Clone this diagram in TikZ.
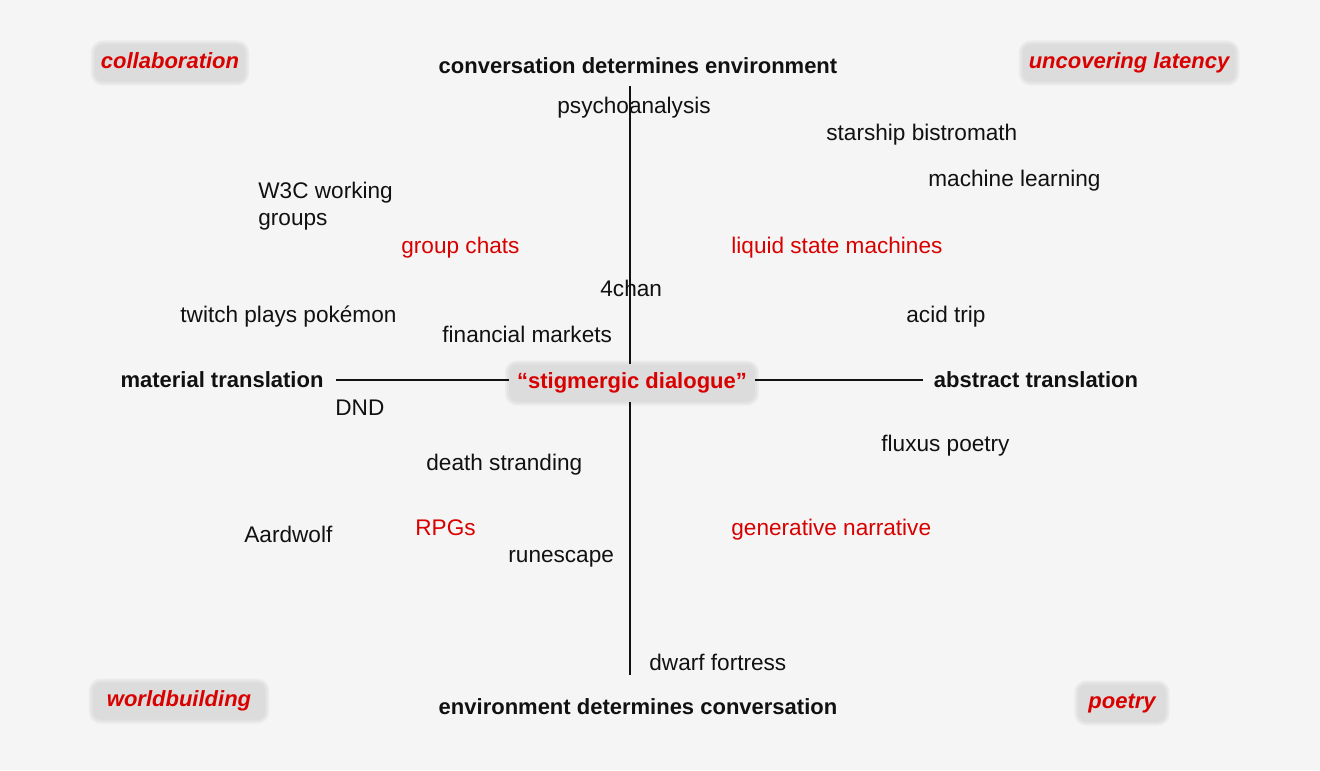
\documentclass[tikz,border=0pt]{standalone}
\usepackage{fontspec}
\setmainfont{Liberation Sans}
\usetikzlibrary{positioning}
\definecolor{mRed}{HTML}{D90000}
\definecolor{mBg}{HTML}{F5F5F5}
\definecolor{mBox}{HTML}{DCDCDC}
\definecolor{mInk}{HTML}{111111}

\begin{document}
\begin{tikzpicture}[x=0.5pt, y=-0.5pt, font=\fontsize{11.3}{13.5}\selectfont,
      item/.style={anchor=west, inner sep=0pt, text height=8pt, text depth=2.5pt, text=mInk},
      axislabel/.style={font=\fontsize{11}{13.5}\selectfont\bfseries, text=mInk, inner sep=1pt},
      tag/.style={fill=mBox, rounded corners=4pt, text=mRed, inner xsep=3pt, inner ysep=4pt,
        text height=8pt, text depth=2.5pt, font=\fontsize{11}{13.5}\selectfont\bfseries\itshape,
        preaction={draw=mBox!40!mBg, line width=4pt, rounded corners=4pt},
        preaction={draw=mBox!75!mBg, line width=2pt, rounded corners=4pt}},
      axis/.style={draw=mInk, line width=0.8pt}]
    \useasboundingbox[fill=mBg] (0,0) rectangle (1320,770);
    % quadrant tags
    \node[tag] (collab) at (170,63) {collaboration};
    \node[tag] (latency) at (1129,63) {uncovering latency};
    \node[tag, inner xsep=7pt] (world) at (179,701) {worldbuilding};
    \node[tag, inner xsep=5pt] (poetry) at (1122,703) {poetry};
    % axis ends
    \node[axislabel] (convEnv) at (638,66) {conversation determines environment};
    \node[axislabel] (envConv) at (638,707) {environment determines conversation};
    \node[axislabel] (material) at (222,380) {material translation};
    \node[axislabel] (abstract) at (1036,380) {abstract translation};
    % centre
    \node[tag, font=\fontsize{11}{13.5}\selectfont\bfseries, inner xsep=4pt] (dlg) at (632,383) {“stigmergic dialogue”};
    \coordinate (vTop) at (630,86);
    \coordinate (vBot) at (630,675);
    \coordinate (hLeft) at (336,380);
    \coordinate (hRight) at (923,380);
    \draw[axis] (vTop) -- (vTop |- dlg.north);
    \draw[axis] (vBot |- dlg.south) -- (vBot);
    \draw[axis] (hLeft) -- (hLeft -| dlg.west);
    \draw[axis] (hRight -| dlg.east) -- (hRight);
    % examples: name / left x / y / colour / text
    \foreach \id/\x/\y/\c/\txt in {
        psy/557/108/mInk/psychoanalysis, bistro/826/135/mInk/starship bistromath,
        ml/928/181/mInk/machine learning, chats/401/248/mRed/group chats,
        lsm/731/248/mRed/liquid state machines, chan/600/291/mInk/4chan,
        twitch/180/317/mInk/twitch plays pokémon, acid/906/317/mInk/acid trip,
        markets/442/337/mInk/financial markets, dnd/335/410/mInk/DND,
        fluxus/881/446/mInk/fluxus poetry, death/426/465/mInk/death stranding,
        aard/244/537/mInk/Aardwolf, rpg/415/530/mRed/RPGs,
        gen/731/530/mRed/generative narrative, rune/508/557/mInk/runescape,
        dwarf/649/665/mInk/dwarf fortress} {
      \node[item, text=\c] (\id) at (\x,\y) {\txt};
    }
    \node[item, align=left, text height=, text depth=] (w3c) at (258,206) {W3C working\\groups};
  \end{tikzpicture}
\end{document}
